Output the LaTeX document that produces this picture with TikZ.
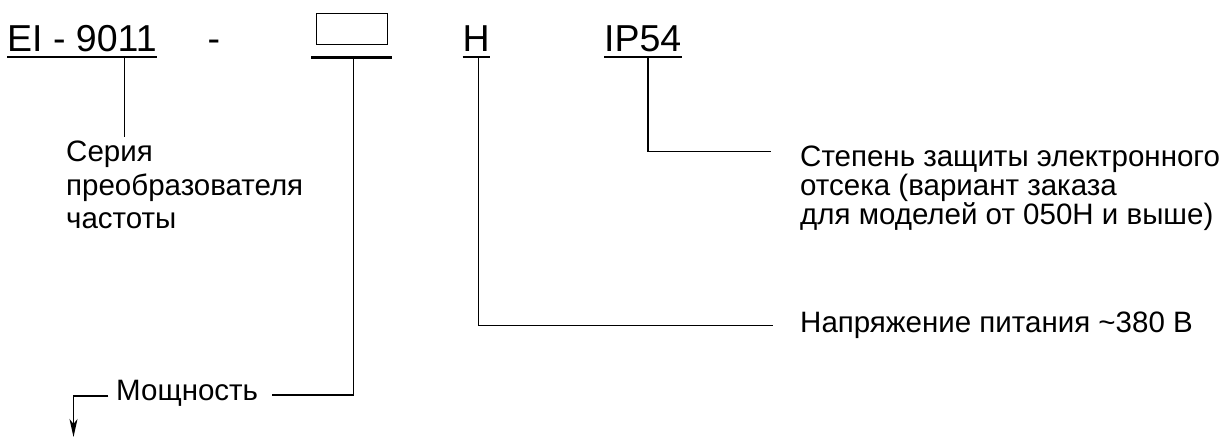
\documentclass[tikz,border=0pt]{standalone}
\usepackage{fontspec}
\setmainfont{Liberation Sans}
\usetikzlibrary{arrows.meta}
\begin{document}
\begin{tikzpicture}[x=1pt,y=-1pt,
  lbl/.style={inner sep=0pt,anchor=base west,font=\fontsize{29.5}{29.5}\selectfont},
  code/.style={inner sep=0pt,anchor=base west,font=\fontsize{37.5}{37.5}\selectfont},
  uline/.style={line width=2.5pt},
  conn/.style={line width=1.4pt},
  slot/.style={draw,line width=1.4pt,minimum width=71pt,minimum height=31pt,inner sep=0pt}]
\useasboundingbox (0,0) rectangle (1225,437);

% code row
\node[code] (ei) at (7,51.7) {EI - 9011};
\node[code] (dash) at (207.3,51.7) {-};
\node[slot] (box) at (352.2,28.8) {};
\node[code] (h) at (462.5,51.7) {H};
\node[code] (ip) at (604,51.7) {IP54};

% underlines
\draw[uline] ([yshift=-5.3pt]ei.base west) -- ([yshift=-5.3pt]ei.base east);
\draw[uline] ([xshift=-5pt,yshift=-12.7pt]box.south west) -- ([xshift=4pt,yshift=-12.7pt]box.south east);
\draw[uline] ([yshift=-5.3pt]h.base west) -- ([yshift=-5.3pt]h.base east);
\draw[uline] ([yshift=-5.3pt]ip.base west) -- ([yshift=-5.3pt]ip.base east);

% labels
\node[lbl] (s1) at (66,161.5) {Серия};
\node[lbl] (s2) at (66,195) {преобразователя};
\node[lbl] (s3) at (66,228.5) {частоты};

\node[lbl] (p1) at (800,166) {Степень защиты электронного};
\node[lbl] (p2) at (800,195) {отсека (вариант заказа};
\node[lbl] (p3) at (800,224) {для моделей от 050H и выше)};

\node[lbl] (u) at (800,332) {Напряжение питания \textasciitilde380 В};

\node[lbl] (m) at (116,400) {Мощность};

% connector points
\coordinate (eiA) at (124.3,58);
\coordinate (eiB) at (124.3,136.7);
\coordinate (ipA) at (647.8,58);
\coordinate (ipB) at (647.8,151.7);
\coordinate (ipC) at (771,151.7);
\coordinate (hA) at (478.5,58);
\coordinate (hB) at (478.5,325.5);
\coordinate (hC) at (773,325.5);
\coordinate (bA) at (353.3,58);
\coordinate (bB) at (353.3,395);
\coordinate (bC) at (271.7,395);
\coordinate (mA) at (108.3,396);
\coordinate (mB) at (73.5,396);
\coordinate (mC) at (73.5,437);

\draw[conn] (eiA) -- (eiB);
\draw[conn] (ipA) -- (ipB) -- (ipC);
\draw[conn] (hA) -- (hB) -- (hC);
\draw[conn] (bA) -- (bB) -- (bC);
\draw[conn,-{Stealth[length=18pt,width=8pt,inset=5pt]}] (mA) -- (mB) -- (mC);
\end{tikzpicture}
\end{document}
